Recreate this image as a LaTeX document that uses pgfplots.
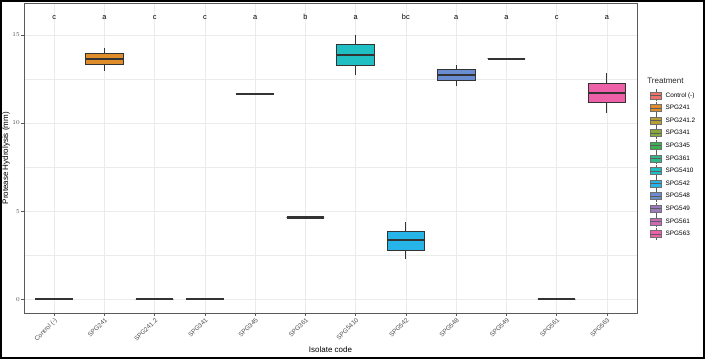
\documentclass[border=0pt]{standalone}
\usepackage{fontspec}
\setmainfont{Liberation Sans}
\usepackage{pgfplots}
\pgfplotsset{compat=1.18}
\usepgfplotslibrary{statistics}
\definecolor{cA}{HTML}{F0706A}
\definecolor{cB}{HTML}{DF8C2B}
\definecolor{cC}{HTML}{B8A030}
\definecolor{cD}{HTML}{86AA3A}
\definecolor{cE}{HTML}{3AB150}
\definecolor{cF}{HTML}{2DB98A}
\definecolor{cG}{HTML}{20BFC4}
\definecolor{cH}{HTML}{27B4E8}
\definecolor{cI}{HTML}{6A8CD0}
\definecolor{cJ}{HTML}{9C7AC0}
\definecolor{cK}{HTML}{CC6AB8}
\definecolor{cL}{HTML}{EE60A8}
\definecolor{gridc}{HTML}{EBEBEB}
\definecolor{bordc}{HTML}{5A5A5A}
\definecolor{boxd}{HTML}{333333}
\definecolor{ticktext}{HTML}{4D4D4D}
\newcommand\boxleg[1]{\addlegendimage{legend image code/.code={%
  \draw[boxd!80,line width=0.4pt] (5.5pt,-6.1pt)--(5.5pt,6.1pt);
  \draw[fill=#1,draw=boxd!70,line width=0.4pt] (0pt,-3.5pt) rectangle (11pt,3.5pt);
  \draw[boxd!80,line width=0.6pt] (0pt,0pt)--(11pt,0pt);}}}
\begin{document}
\begin{tikzpicture}
\useasboundingbox (0,0) rectangle (705pt,359pt);
\draw[line width=1.6pt] (0.8pt,0.8pt) rectangle (704.2pt,358.2pt);
\begin{axis}[
  at={(24pt,45.5pt)}, anchor=south west, scale only axis,
  width=613pt, height=310.5pt,
  clip mode=individual,
  xmin=-0.6, xmax=11.6, ymin=-0.8, ymax=16.8,
  xtick={0,...,11},
  xticklabels={Control (-),SPG241,SPG241.2,SPG341,SPG345,SPG361,SPG5410,SPG542,SPG548,SPG549,SPG561,SPG563},
  ytick={0,5,10,15}, minor ytick={2.5,7.5,12.5},
  grid=both,
  major grid style={draw=gridc, line width=0.5pt},
  minor grid style={draw=gridc, line width=0.3pt},
  axis line style={draw=bordc, line width=0.8pt},
  tick align=outside, major tick length=2.5pt, minor tick length=0pt,
  xtick pos=left, ytick pos=left,
  tick style={draw=bordc, line width=0.5pt},
  ticklabel style={font=\fontsize{6.4}{7}\selectfont, text=ticktext},
  xticklabel style={rotate=45, anchor=north east, inner sep=1pt},
  yticklabel style={inner sep=1.5pt},
  xlabel={Isolate code}, ylabel={Protease Hydrolysis (mm)},
  label style={font=\fontsize{8}{9}\selectfont},
  xlabel style={at={(axis description cs:0.5,-0.116)}, anchor=center},
  ylabel style={at={(axis description cs:-0.0294,0.5)}, anchor=center},
  boxplot/draw direction=y,
  boxplot/box extend=0.75,
  boxplot/whisker extend=0,
  boxplot/every median/.style={line width=2.1pt},
  legend style={at={(axis description cs:1.021,0.7235)}, anchor=north west,
    draw=none, fill=none, inner sep=0pt, row sep=0pt,
    font=\fontsize{6.4}{7}\selectfont,
    nodes={inner sep=0pt, text height=5pt, text depth=1.5pt},
    /tikz/every odd column/.append style={column sep=4pt}},
  legend cell align=left,
]
% Control (-)
\addplot[forget plot, draw=boxd, fill=cA, line width=0.8pt, boxplot prepared={draw position=0, lower whisker=0, lower quartile=0, median=0, upper quartile=0, upper whisker=0}] coordinates {};
% SPG241
\addplot[forget plot, draw=boxd, fill=cB, line width=0.8pt, boxplot prepared={draw position=1, lower whisker=12.97, lower quartile=13.33, median=13.64, upper quartile=13.96, upper whisker=14.27}] coordinates {};
% SPG241.2
\addplot[forget plot, draw=boxd, fill=cC, line width=0.8pt, boxplot prepared={draw position=2, lower whisker=0, lower quartile=0, median=0, upper quartile=0, upper whisker=0}] coordinates {};
% SPG341
\addplot[forget plot, draw=boxd, fill=cD, line width=0.8pt, boxplot prepared={draw position=3, lower whisker=0, lower quartile=0, median=0, upper quartile=0, upper whisker=0}] coordinates {};
% SPG345
\addplot[forget plot, draw=boxd, fill=cE, line width=0.8pt, boxplot prepared={draw position=4, lower whisker=11.65, lower quartile=11.65, median=11.65, upper quartile=11.65, upper whisker=11.65}] coordinates {};
% SPG361
\addplot[forget plot, draw=boxd, fill=cF, line width=0.8pt, boxplot prepared={draw position=5, lower whisker=4.64, lower quartile=4.64, median=4.64, upper quartile=4.64, upper whisker=4.64}] coordinates {};
% SPG5410
\addplot[forget plot, draw=boxd, fill=cG, line width=0.8pt, boxplot prepared={draw position=6, lower whisker=12.7, lower quartile=13.27, median=13.86, upper quartile=14.43, upper whisker=15.0}] coordinates {};
% SPG542
\addplot[forget plot, draw=boxd, fill=cH, line width=0.8pt, boxplot prepared={draw position=7, lower whisker=2.27, lower quartile=2.78, median=3.35, upper quartile=3.86, upper whisker=4.37}] coordinates {};
% SPG548
\addplot[forget plot, draw=boxd, fill=cI, line width=0.8pt, boxplot prepared={draw position=8, lower whisker=12.1, lower quartile=12.4, median=12.7, upper quartile=13.01, upper whisker=13.27}] coordinates {};
% SPG549
\addplot[forget plot, draw=boxd, fill=cJ, line width=0.8pt, boxplot prepared={draw position=9, lower whisker=13.65, lower quartile=13.65, median=13.65, upper quartile=13.65, upper whisker=13.65}] coordinates {};
% SPG561
\addplot[forget plot, draw=boxd, fill=cK, line width=0.8pt, boxplot prepared={draw position=10, lower whisker=0, lower quartile=0, median=0, upper quartile=0, upper whisker=0}] coordinates {};
% SPG563
\addplot[forget plot, draw=boxd, fill=cL, line width=0.8pt, boxplot prepared={draw position=11, lower whisker=10.55, lower quartile=11.14, median=11.72, upper quartile=12.27, upper whisker=12.84}] coordinates {};
% significance letters
\addplot[forget plot, draw=none, mark=none, nodes near coords, point meta=explicit symbolic,
  nodes near coords style={anchor=center, font=\fontsize{7.4}{8}\selectfont, text=black}]
  table[meta=l] {
x y l
0 16 c
1 16 a
2 16 c
3 16 c
4 16 a
5 16 b
6 16 a
7 16 bc
8 16 a
9 16 a
10 16 c
11 16 a
};
\boxleg{cA}\addlegendentry{Control (-)}
\boxleg{cB}\addlegendentry{SPG241}
\boxleg{cC}\addlegendentry{SPG241.2}
\boxleg{cD}\addlegendentry{SPG341}
\boxleg{cE}\addlegendentry{SPG345}
\boxleg{cF}\addlegendentry{SPG361}
\boxleg{cG}\addlegendentry{SPG5410}
\boxleg{cH}\addlegendentry{SPG542}
\boxleg{cI}\addlegendentry{SPG548}
\boxleg{cJ}\addlegendentry{SPG549}
\boxleg{cK}\addlegendentry{SPG561}
\boxleg{cL}\addlegendentry{SPG563}
\node[anchor=west, inner sep=0pt, font=\fontsize{8}{9}\selectfont, text=black!85] at (axis description cs:1.0166,0.748) {Treatment};
\end{axis}
\end{tikzpicture}
\end{document}
